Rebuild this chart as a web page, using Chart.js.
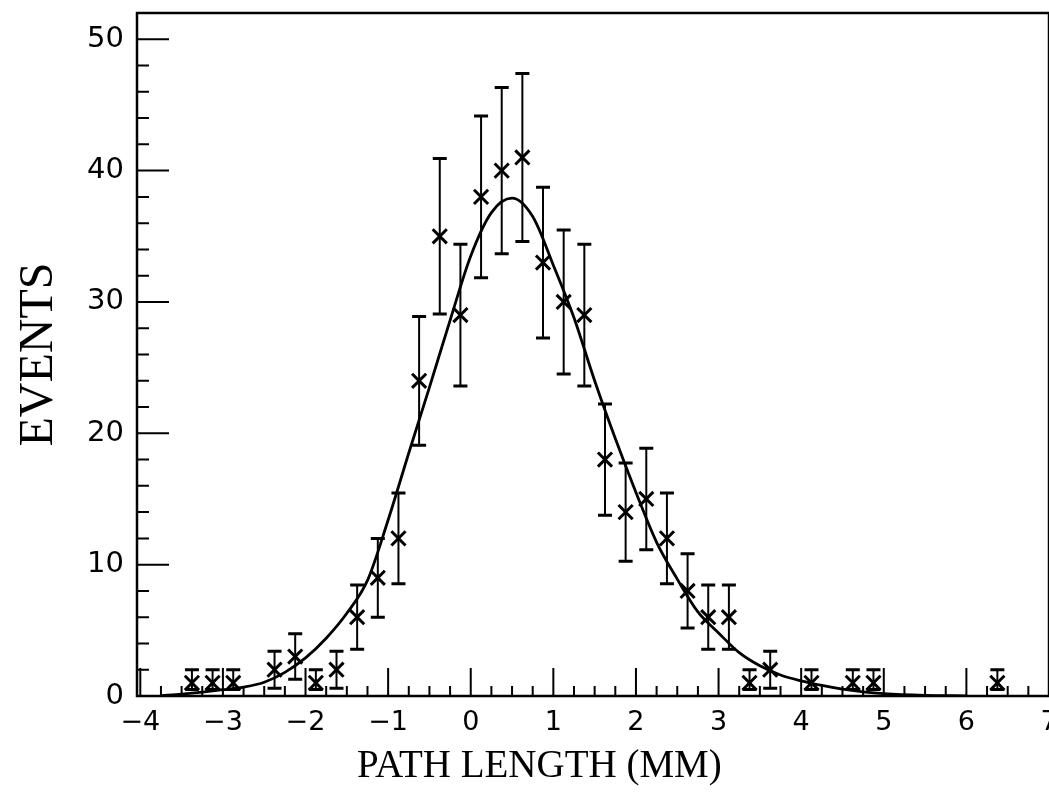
<!DOCTYPE html>
<html>
<head>
<meta charset="utf-8">
<script src="https://cdn.jsdelivr.net/npm/chart.js@4.4.1/dist/chart.umd.min.js"></script>
<style>
  html, body { margin: 0; padding: 0; background: #fff; overflow: hidden; }
  #wrap { width: 1049px; height: 792px; overflow: hidden; }
  canvas { display: block; }
</style>
</head>
<body>
<div id="wrap"><canvas id="c" width="1070" height="792"></canvas></div>
<script>
// bin centres (mm) and event counts
const binX = [-3.375, -3.125, -2.875, -2.375, -2.125, -1.875, -1.625, -1.375, -1.125, -0.875,
              -0.625, -0.375, -0.125, 0.125, 0.375, 0.625, 0.875, 1.125, 1.375, 1.625,
              1.875, 2.125, 2.375, 2.625, 2.875, 3.125, 3.375, 3.625, 4.125, 4.625,
              4.875, 6.375];
const counts = [1, 1, 1, 2, 3, 1, 2, 6, 9, 12,
                24, 35, 29, 38, 40, 41, 33, 30, 29, 18,
                14, 15, 12, 8, 6, 6, 1, 2, 1, 1,
                1, 1];
// error bar half lengths (up / down)
const errUp = [1, 1, 1, 1.41, 1.73, 1, 1.41, 2.45, 3, 3.46,
               4.9, 5.92, 5.39, 6.16, 6.32, 6.4, 5.74, 5.48, 5.39, 4.24,
               3.74, 3.87, 3.46, 2.83, 2.45, 2.45, 1, 1.41, 1, 1,
               1, 1];
const errDown = [0.5, 0.5, 0.5, 1.41, 1.73, 0.5, 1.41, 2.45, 3, 3.46,
                 4.9, 5.92, 5.39, 6.16, 6.32, 6.4, 5.74, 5.48, 5.39, 4.24,
                 3.74, 3.87, 3.46, 2.83, 2.45, 2.45, 0.5, 1.41, 0.5, 0.5,
                 0.5, 0.5];

// fitted curve
const fitX = [-3.75, -3.5, -3.25, -3, -2.75, -2.5, -2.25, -2, -1.75, -1.5,
              -1.25, -1, -0.75, -0.5, -0.25, 0, 0.25, 0.5, 0.75, 1,
              1.25, 1.5, 1.75, 2, 2.25, 2.5, 2.75, 3, 3.25, 3.5,
              3.75, 4, 4.25, 4.5, 4.75, 5, 5.5, 6];
const fitY = [0.03, 0.15, 0.3, 0.48, 0.68, 1.05, 1.8, 2.9, 4.4, 6.3,
              8.8, 13.4, 18.5, 23.5, 28.6, 33.5, 36.8, 37.9, 36.5, 32.8,
              28.8, 24.0, 19.6, 15.5, 11.7, 8.9, 6.4, 4.8, 3.3, 2.3,
              1.6, 1.15, 0.8, 0.52, 0.32, 0.18, 0.05, 0.01];

const xTicks = [-4, -3, -2, -1, 0, 1, 2, 3, 4, 5, 6, 7];
const yTicks = [0, 10, 20, 30, 40, 50];

// error bars, frame and inward tick marks
const framePlugin = {
  id: 'framePlugin',
  afterDatasetsDraw(chart) {
    const { ctx, chartArea: a, scales: { x, y } } = chart;
    ctx.save();
    ctx.strokeStyle = '#000';
    ctx.lineCap = 'butt';

    binX.forEach((v, i) => {
      const px = x.getPixelForValue(v);
      const top = y.getPixelForValue(counts[i] + errUp[i]);
      const bot = y.getPixelForValue(counts[i] - errDown[i]);
      ctx.lineWidth = 2;
      ctx.beginPath();
      ctx.moveTo(px, top); ctx.lineTo(px, bot);
      ctx.stroke();
      ctx.lineWidth = 3;
      ctx.beginPath();
      ctx.moveTo(px - 7, top); ctx.lineTo(px + 7, top);
      ctx.moveTo(px - 7, bot); ctx.lineTo(px + 7, bot);
      ctx.stroke();
    });

    // ticks on the bottom axis
    ctx.lineWidth = 2;
    ctx.beginPath();
    for (let k = 0; k <= 44; k++) {
      const v = -4 + k * 0.25;
      const px = x.getPixelForValue(v);
      if (px < a.left + 1) continue;
      const len = k % 4 === 0 ? 28 : 10;
      ctx.moveTo(px, a.bottom); ctx.lineTo(px, a.bottom - len);
    }
    // ticks on the left axis
    for (let k = 1; k <= 26; k++) {
      const py = y.getPixelForValue(k * 2);
      const len = k % 5 === 0 ? 32 : 12;
      ctx.moveTo(a.left, py); ctx.lineTo(a.left + len, py);
    }
    ctx.stroke();

    ctx.lineWidth = 2.5;
    ctx.strokeRect(a.left, a.top, a.right - a.left, a.bottom - a.top);
    ctx.restore();
  }
};

new Chart(document.getElementById('c'), {
  type: 'scatter',
  data: {
    datasets: [
      {
        label: 'fit',
        data: fitX.map((v, i) => ({ x: v, y: fitY[i] })),
        showLine: true,
        borderColor: '#000',
        borderWidth: 2.8,
        pointRadius: 0,
        cubicInterpolationMode: 'monotone',
        fill: false
      },
      {
        label: 'events',
        data: binX.map((v, i) => ({ x: v, y: counts[i] })),
        pointStyle: 'crossRot',
        pointRadius: 10,
        borderColor: '#000',
        borderWidth: 3,
        backgroundColor: '#000'
      }
    ]
  },
  options: {
    responsive: false,
    animation: false,
    devicePixelRatio: 1,
    layout: { padding: { top: 12, right: 21, left: 0, bottom: 0 } },
    plugins: { legend: { display: false }, tooltip: { enabled: false } },
    scales: {
      x: {
        type: 'linear',
        min: -4.04,
        max: 7,
        afterBuildTicks: s => { s.ticks = xTicks.map(v => ({ value: v })); },
        afterFit: s => { s.height = 96; s.paddingLeft = 0; s.paddingRight = 0; },
        grid: { display: false, drawTicks: false },
        border: { display: false },
        ticks: {
          color: '#000',
          font: { family: 'DejaVu Sans', size: 27 },
          padding: 11,
          maxRotation: 0,
          autoSkip: false,
          callback: v => v < 0 ? '\u2212' + Math.abs(v) : String(v)
        },
        title: {
          display: true,
          // trailing spaces shift the centred title left, as in the original
          text: 'PATH LENGTH (MM)\u00a0\u00a0\u00a0\u00a0\u00a0\u00a0\u00a0\u00a0\u00a0\u00a0\u00a0',
          color: '#000',
          font: { family: 'Liberation Serif', size: 39 },
          padding: { top: 0, bottom: 2 }
        }
      },
      y: {
        type: 'linear',
        min: 0,
        max: 52,
        afterBuildTicks: s => { s.ticks = yTicks.map(v => ({ value: v })); },
        afterFit: s => { s.width = 137; s.paddingTop = 0; s.paddingBottom = 0; },
        grid: { display: false, drawTicks: false },
        border: { display: false },
        ticks: {
          color: '#000',
          font: { family: 'DejaVu Sans', size: 29 },
          padding: 13
        },
        title: {
          display: true,
          text: 'EVENTS',
          color: '#000',
          font: { family: 'Liberation Serif', size: 48 },
          padding: { top: 11, bottom: 0 }
        }
      }
    }
  },
  plugins: [framePlugin]
});
</script>
</body>
</html>
